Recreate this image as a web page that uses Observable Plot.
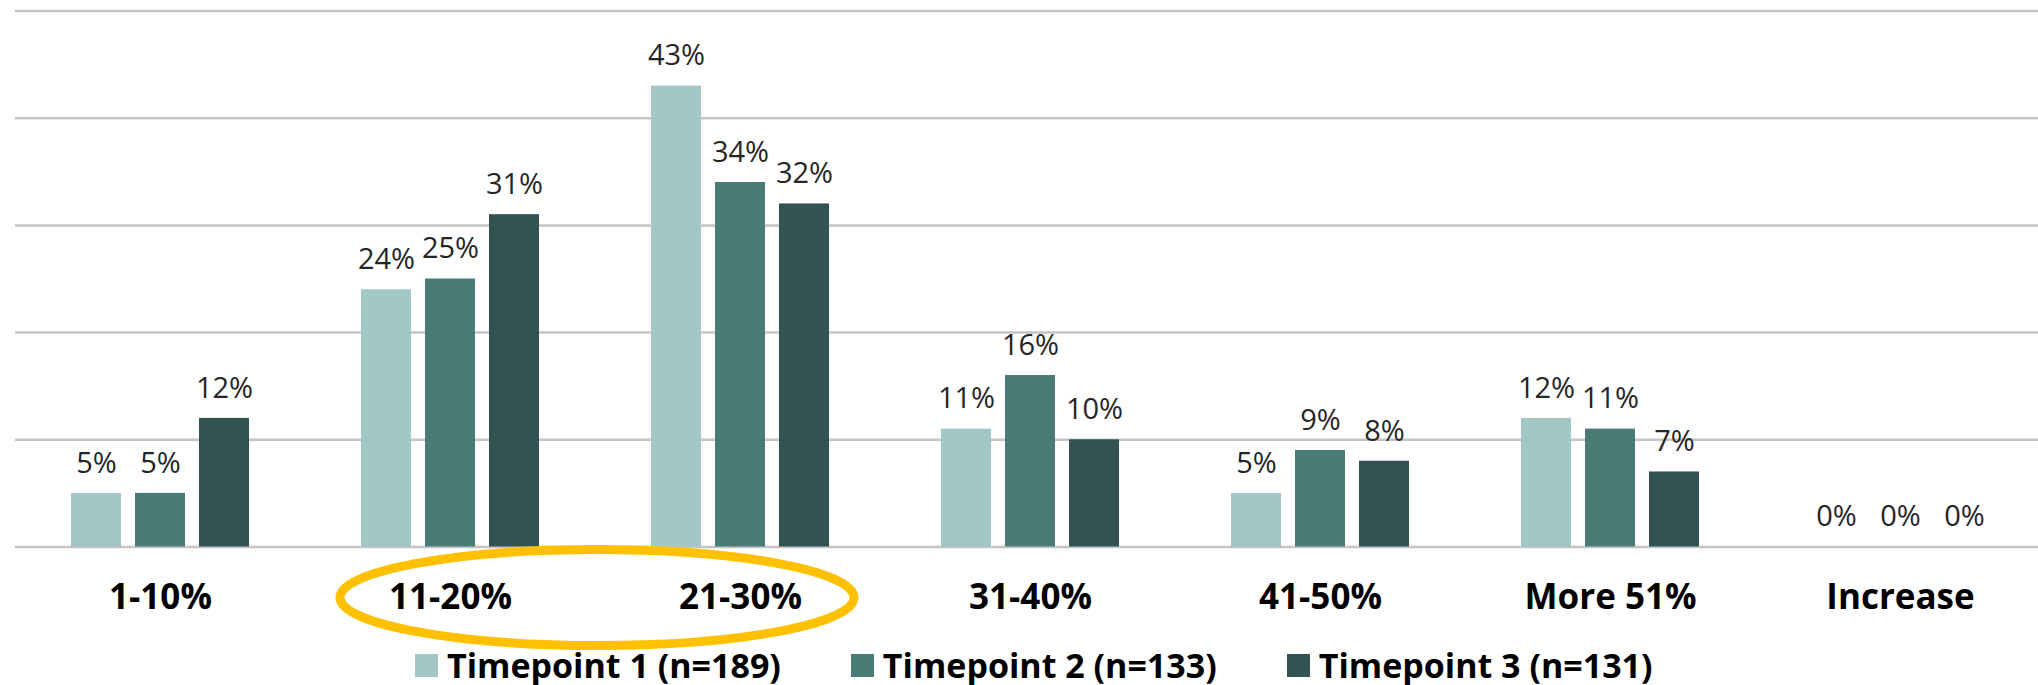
<!DOCTYPE html>
<html><head><meta charset="utf-8">
<script src="https://cdn.jsdelivr.net/npm/d3@7"></script>
<script src="https://cdn.jsdelivr.net/npm/@observablehq/plot@0.6"></script>
<style>
html,body{margin:0;padding:0;background:#fff;overflow:hidden}
#wrap{position:relative;width:2038px;height:685px}
.lg-swatches{position:absolute !important;left:415px;top:642px;font-family:"Open Sans",sans-serif !important;font-size:34px !important;font-weight:700 !important;color:#000 !important;margin:0 !important}
.lg-swatches-wrap{min-height:0 !important;flex-wrap:nowrap !important}
.lg-swatch{margin-right:70px !important;white-space:nowrap}
.lg-swatch > svg{margin-right:9px !important}
</style></head><body><div id="wrap"></div>
<script>
const categories = ["1-10%", "11-20%", "21-30%", "31-40%", "41-50%", "More 51%", "Increase"];
const series = ["Timepoint 1 (n=189)", "Timepoint 2 (n=133)", "Timepoint 3 (n=131)"];
const t1 = [5, 24, 43, 11, 5, 12, 0];
const t2 = [5, 25, 34, 16, 9, 11, 0];
const t3 = [12, 31, 32, 10, 8, 7, 0];
const colors = ["#a3c7c4", "#4a7a76", "#325351"];
const gridTicks = [0, 10, 20, 30, 40, 50];
const highlighted = ["11-20%", "21-30%"];

const values = [t1, t2, t3];
const data = categories.flatMap((c, i) => series.map((s, j) => ({category: c, series: s, value: values[j][i]})));

const plot = Plot.plot({
  width: 2038, height: 685,
  marginLeft: 13, marginRight: 0, marginTop: 10.5, marginBottom: 138.5,
  style: {fontFamily: "'Open Sans', sans-serif", background: "white"},
  fx: {domain: categories, range: [13, 2046], padding: 0, axis: null},
  x: {domain: series, paddingInner: 0.215, paddingOuter: 0.842, axis: null},
  y: {domain: [0, 50], axis: null},
  color: {domain: series, range: colors},
  marks: [
    Plot.ruleY(gridTicks, {stroke: "#c4c4c4", strokeWidth: 2.5}),
    Plot.barY(data, {fx: "category", x: "series", y: "value", fill: "series"}),
    Plot.text(data, {fx: "category", x: "series", y: "value", text: d => d.value + "%", dy: -30, fontSize: 29, fill: "#262626"}),
    Plot.text(categories, {fx: d => d, text: d => d, frameAnchor: "bottom", lineAnchor: "middle", dy: 51, fontSize: 35, fontWeight: "bold", fill: "#000"})
  ]
});

const wrap = document.getElementById("wrap");
wrap.appendChild(plot);

const fx = plot.scale("fx");
const ys = plot.scale("y");
const c1 = fx.apply(highlighted[0]) + fx.bandwidth / 2;
const c2 = fx.apply(highlighted[1]) + fx.bandwidth / 2;
d3.select(plot).append("ellipse")
  .attr("cx", (c1 + c2) / 2 + 2)
  .attr("cy", ys.apply(0) + 51)
  .attr("rx", 257).attr("ry", 48)
  .attr("fill", "none").attr("stroke", "#FFC000").attr("stroke-width", 9);

const leg = plot.legend("color", {swatchSize: 23, className: "lg"});
wrap.appendChild(leg);
</script></body></html>
